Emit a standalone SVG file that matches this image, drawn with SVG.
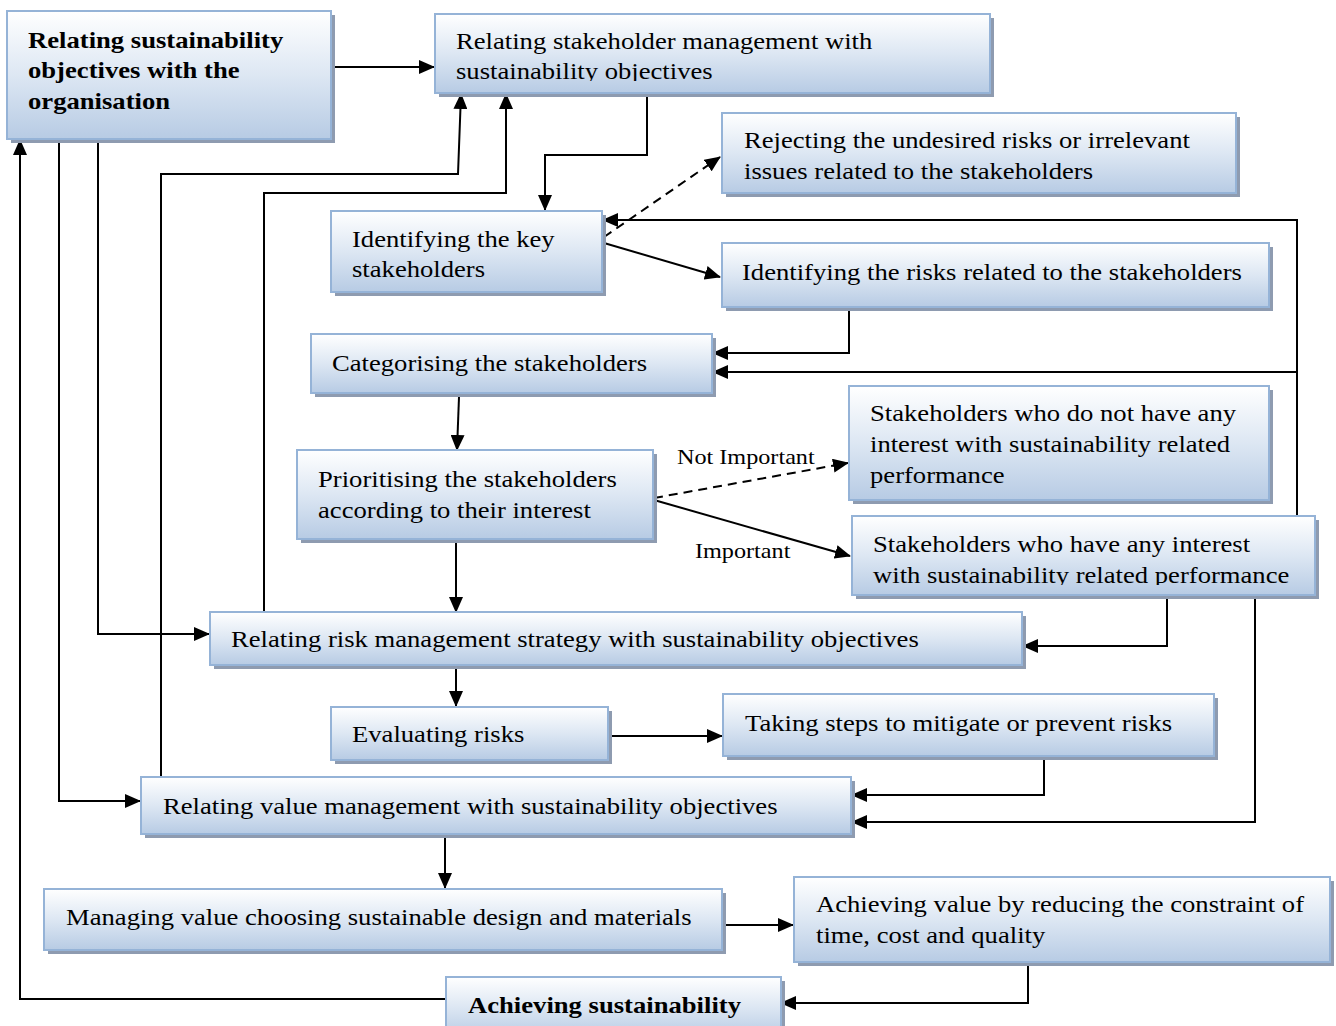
<svg xmlns="http://www.w3.org/2000/svg" width="1336" height="1026" viewBox="0 0 1336 1026">
<defs>
<linearGradient id="g" x1="0" y1="0" x2="0" y2="1">
<stop offset="0" stop-color="#ffffff"/>
<stop offset="0.5" stop-color="#dde7f3"/>
<stop offset="1" stop-color="#b7cbe4"/>
</linearGradient>
<marker id="ah" markerUnits="userSpaceOnUse" markerWidth="16" markerHeight="14" viewBox="0 0 16 14" refX="15" refY="7" orient="auto">
<path d="M0,0 L16,7 L0,14 Z" fill="#000"/>
</marker>
<clipPath id="c2"><rect x="435" y="14" width="555" height="67"/></clipPath>
<clipPath id="c9"><rect x="852" y="516" width="463" height="69"/></clipPath>
</defs>
<style>
.sh{fill:#8e9bb0}
.bx{fill:url(#g);stroke:#95b3d7;stroke-width:2}
.t{font-family:"Liberation Serif","Times New Roman",serif;font-size:24px;fill:#000}
.b{font-weight:bold}
.lb{font-family:"Liberation Serif","Times New Roman",serif;font-size:22px;fill:#000}
.ln{fill:none;stroke:#000;stroke-width:2}
.ar{marker-end:url(#ah)}
.da{stroke-dasharray:9,6}
</style>
<rect width="1336" height="1026" fill="#fff"/>

<g id="connectors">
<path class="ln ar" d="M332,67 H434"/>
<path class="ln ar" d="M647,97 V155 H545 V210"/>
<path class="ln ar" d="M161,776 V174 H458 L461,94"/>
<path class="ln ar" d="M264,612 V193 H506 V94"/>
<path class="ln ar da" d="M604,237 L720,157"/>
<path class="ln ar" d="M1297,516 V220 H603"/>
<path class="ln ar" d="M604,243 L720,277"/>
<path class="ln ar" d="M849,307 V353 H713"/>
<path class="ln ar" d="M1297,372 H713"/>
<path class="ln ar" d="M459,397 L457,450"/>
<path class="ln ar da" d="M654,498 L848,463"/>
<path class="ln ar" d="M654,500 L850,556"/>
<path class="ln ar" d="M456,541 V612"/>
<path class="ln ar" d="M1167,596 V646 H1023"/>
<path class="ln ar" d="M98,140 V634 H209"/>
<path class="ln ar" d="M59,140 V801 H140"/>
<path class="ln ar" d="M456,666 V706"/>
<path class="ln ar" d="M609,736 H722"/>
<path class="ln ar" d="M1044,757 V795 H852"/>
<path class="ln ar" d="M1255,596 V822 H852"/>
<path class="ln ar" d="M445,835 V888"/>
<path class="ln ar" d="M723,925 H793"/>
<path class="ln ar" d="M1028,963 V1003 H781"/>
<path class="ln ar" d="M446,999 H20 V140"/>
<text class="lb" transform="translate(677,464) scale(1.1,1)">Not Important</text>
<text class="lb" transform="translate(695,558) scale(1.1,1)">Important</text>
</g>

<g id="n1"><rect class="sh" x="11" y="15" width="324" height="128"/><rect class="bx" x="7" y="11" width="324" height="128"/>
<text class="t b" transform="translate(28,48) scale(1.11,1)">Relating sustainability</text><text class="t b" transform="translate(28,78) scale(1.11,1)">objectives with the</text><text class="t b" transform="translate(28,109) scale(1.11,1)">organisation</text></g>

<g id="n2"><rect class="sh" x="439" y="18" width="555" height="79"/><rect class="bx" x="435" y="14" width="555" height="79"/>
<g clip-path="url(#c2)"><text class="t" transform="translate(456,49) scale(1.11,1)">Relating stakeholder management with</text><text class="t" transform="translate(456,79) scale(1.11,1)">sustainability objectives</text></g></g>

<g id="n3"><rect class="sh" x="726" y="117" width="514" height="80"/><rect class="bx" x="722" y="113" width="514" height="80"/>
<text class="t" transform="translate(744,148) scale(1.11,1)">Rejecting the undesired risks or irrelevant</text><text class="t" transform="translate(744,179) scale(1.11,1)">issues related to the stakeholders</text></g>

<g id="n4"><rect class="sh" x="335" y="215" width="271" height="81"/><rect class="bx" x="331" y="211" width="271" height="81"/>
<text class="t" transform="translate(352,247) scale(1.11,1)">Identifying the key</text><text class="t" transform="translate(352,277) scale(1.11,1)">stakeholders</text></g>

<g id="n5"><rect class="sh" x="726" y="247" width="547" height="64"/><rect class="bx" x="722" y="243" width="547" height="64"/>
<text class="t" transform="translate(742,280) scale(1.11,1)">Identifying the risks related to the stakeholders</text></g>

<g id="n6"><rect class="sh" x="315" y="338" width="401" height="59"/><rect class="bx" x="311" y="334" width="401" height="59"/>
<text class="t" transform="translate(332,371) scale(1.11,1)">Categorising the stakeholders</text></g>

<g id="n7"><rect class="sh" x="853" y="390" width="420" height="114"/><rect class="bx" x="849" y="386" width="420" height="114"/>
<text class="t" transform="translate(870,421) scale(1.11,1)">Stakeholders who do not have any</text><text class="t" transform="translate(870,452) scale(1.11,1)">interest with sustainability related</text><text class="t" transform="translate(870,483) scale(1.11,1)">performance</text></g>

<g id="n8"><rect class="sh" x="301" y="454" width="356" height="89"/><rect class="bx" x="297" y="450" width="356" height="89"/>
<text class="t" transform="translate(318,487) scale(1.11,1)">Prioritising the stakeholders</text><text class="t" transform="translate(318,518) scale(1.11,1)">according to their interest</text></g>

<g id="n9"><rect class="sh" x="856" y="520" width="463" height="79"/><rect class="bx" x="852" y="516" width="463" height="79"/>
<g clip-path="url(#c9)"><text class="t" transform="translate(873,552) scale(1.11,1)">Stakeholders who have any interest</text><text class="t" transform="translate(873,583) scale(1.11,1)">with sustainability related performance</text></g></g>

<g id="n10"><rect class="sh" x="214" y="616" width="812" height="53"/><rect class="bx" x="210" y="612" width="812" height="53"/>
<text class="t" transform="translate(231,647) scale(1.11,1)">Relating risk management strategy with sustainability objectives</text></g>

<g id="n11"><rect class="sh" x="335" y="711" width="277" height="53"/><rect class="bx" x="331" y="707" width="277" height="53"/>
<text class="t" transform="translate(352,742) scale(1.11,1)">Evaluating risks</text></g>

<g id="n12"><rect class="sh" x="727" y="698" width="491" height="62"/><rect class="bx" x="723" y="694" width="491" height="62"/>
<text class="t" transform="translate(745,731) scale(1.11,1)">Taking steps to mitigate or prevent risks</text></g>

<g id="n13"><rect class="sh" x="145" y="781" width="710" height="57"/><rect class="bx" x="141" y="777" width="710" height="57"/>
<text class="t" transform="translate(163,814) scale(1.11,1)">Relating value management with sustainability objectives</text></g>

<g id="n14"><rect class="sh" x="48" y="893" width="678" height="61"/><rect class="bx" x="44" y="889" width="678" height="61"/>
<text class="t" transform="translate(66,925) scale(1.11,1)">Managing value choosing sustainable design and materials</text></g>

<g id="n15"><rect class="sh" x="798" y="881" width="536" height="85"/><rect class="bx" x="794" y="877" width="536" height="85"/>
<text class="t" transform="translate(816,912) scale(1.11,1)">Achieving value by reducing the constraint of</text><text class="t" transform="translate(816,943) scale(1.11,1)">time, cost and quality</text></g>

<g id="n16"><rect class="sh" x="450" y="981" width="335" height="60"/><rect class="bx" x="446" y="977" width="335" height="60"/>
<text class="t b" transform="translate(468,1013) scale(1.11,1)">Achieving sustainability</text></g>
</svg>
